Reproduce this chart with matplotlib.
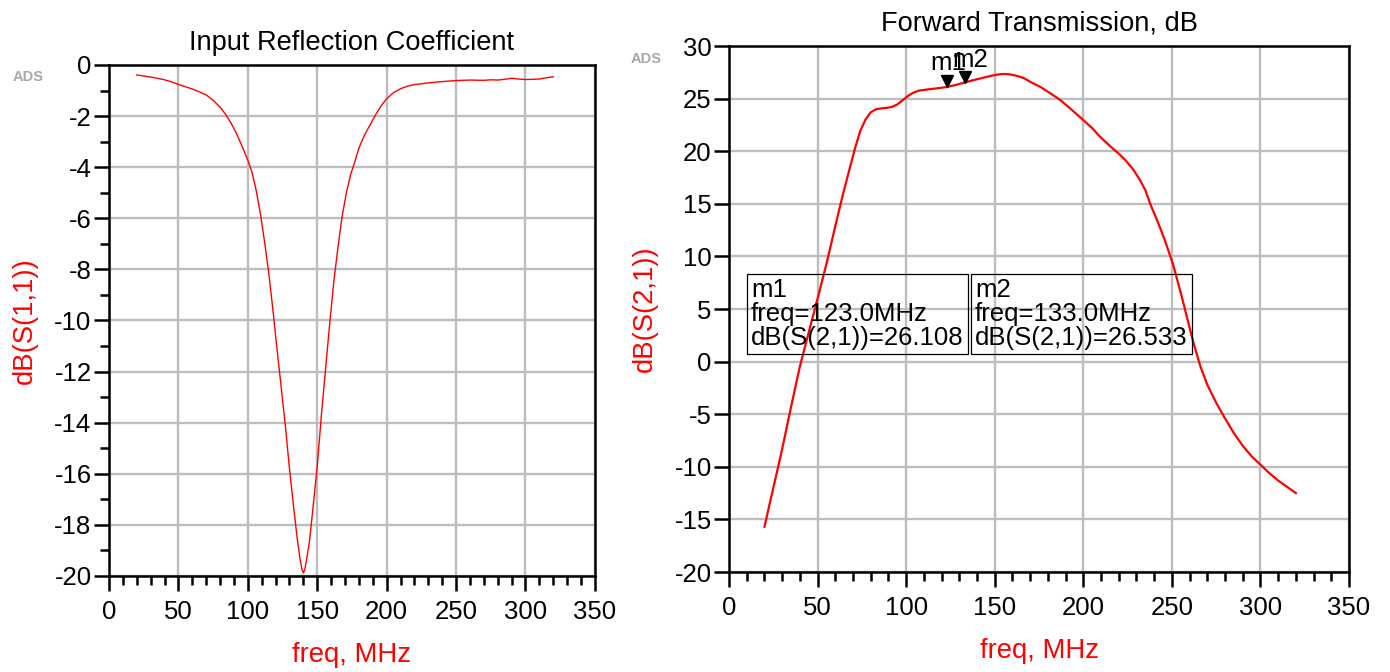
import matplotlib
matplotlib.use("Agg")
import matplotlib.pyplot as plt
from matplotlib.ticker import MultipleLocator
from matplotlib.transforms import ScaledTranslation

plt.rcParams['font.family'] = ['Liberation Sans', 'DejaVu Sans']
plt.rcParams['axes.unicode_minus'] = False

# S11
s11_freq = [20, 25, 30, 35, 40, 45, 50, 55, 60, 65, 70, 75, 80, 84, 88, 92, 96, 100,
            103, 106, 109, 112, 115, 118, 121, 124, 127, 130, 133, 135.5, 137.5, 139,
            140, 141, 142.5, 144.5, 147, 150, 153, 156, 159, 162, 165, 168, 171, 174,
            177, 180, 184, 188, 192, 196, 200, 205, 210, 215, 220, 230, 240, 250, 260,
            270, 275, 280, 285, 290, 295, 300, 305, 310, 315, 320]
s11_db = [-0.39, -0.43, -0.47, -0.52, -0.58, -0.66, -0.76, -0.85, -0.94, -1.05, -1.17,
          -1.38, -1.65, -1.93, -2.28, -2.7, -3.2, -3.72, -4.2, -4.9, -5.8, -6.9, -8.1,
          -9.55, -11.1, -12.6, -14.1, -15.8, -17.3, -18.5, -19.3, -19.75, -19.88,
          -19.75, -19.3, -18.6, -17.3, -15.7, -13.7, -11.9, -10.1, -8.45, -7.1, -5.9,
          -5.0, -4.3, -3.8, -3.25, -2.75, -2.35, -1.95, -1.6, -1.32, -1.08, -0.93,
          -0.83, -0.77, -0.7, -0.65, -0.61, -0.59, -0.6, -0.58, -0.59, -0.56, -0.52,
          -0.55, -0.57, -0.56, -0.55, -0.5, -0.46]

# S21
s21_freq = [20, 22, 25, 30, 35, 40, 45, 50, 55, 60, 64, 68, 71, 74, 77, 80, 83, 86,
            89, 92, 95, 98, 101, 104, 107, 111, 117, 123, 128, 133, 138, 143.6, 148,
            152, 155, 158, 161, 164.3, 167, 170, 175.6, 181, 187, 193, 200, 205,
            209.4, 215, 219.8, 224, 228, 232, 235, 238, 242, 246, 250.8, 256, 262, 266,
            270, 275, 280, 285, 290, 295, 300, 305, 310, 315, 320]
s21_db = [-15.7, -14.2, -12.0, -8.3, -4.3, -0.45, 2.8, 6.0, 9.3, 12.9, 15.7, 18.3,
          20.2, 21.9, 23.0, 23.7, 24.0, 24.07, 24.12, 24.22, 24.45, 24.85, 25.25,
          25.56, 25.75, 25.85, 25.97, 26.108, 26.3, 26.533, 26.76, 26.99, 27.17, 27.3,
          27.34, 27.32, 27.22, 27.08, 26.9, 26.6, 26.13, 25.55, 24.87, 24.0, 22.96,
          22.2, 21.38, 20.5, 19.8, 19.1, 18.3, 17.26, 16.3, 14.9, 13.3, 11.56, 9.18,
          5.9, 1.9, -0.4, -2.2, -3.9, -5.4, -6.8, -8.0, -9.0, -9.8, -10.6, -11.3,
          -11.9, -12.5]

# markers
mk_names = ['m1', 'm2']
mk_freq = [123.0, 133.0]
mk_db = [26.108, 26.533]

grid_col = '#bdbdbd'
tick_fs = 18.5
lab_fs = 19.8


def style_axes(ax, xlim, ylim, ymajor, yminor):
    ax.set_xlim(*xlim)
    ax.set_ylim(*ylim)
    ax.xaxis.set_major_locator(MultipleLocator(50))
    ax.xaxis.set_minor_locator(MultipleLocator(10))
    ax.yaxis.set_major_locator(MultipleLocator(ymajor))
    if yminor:
        ax.yaxis.set_minor_locator(MultipleLocator(yminor))
    ax.grid(True, which='major', color=grid_col, lw=1.7)
    ax.set_axisbelow(True)
    for sp in ax.spines.values():
        sp.set_linewidth(1.8)
        sp.set_color('black')
    ax.tick_params(which='major', direction='out', length=11, width=1.8,
                   labelsize=tick_fs)
    ax.tick_params(which='minor', direction='out', length=6.5, width=1.8)
    ax.tick_params(axis='x', which='major', pad=6)
    ax.tick_params(axis='y', which='major', pad=1.5)


fig = plt.figure(figsize=(13.9, 6.72), dpi=100)

# left: input reflection
ax1 = fig.add_axes([0.0784, 0.1429, 0.3496, 0.7604])
style_axes(ax1, (0, 350), (-20, 0), 2, 1)
ax1.plot(s11_freq, s11_db, color='red', lw=1.0)
ax1.set_title("Input Reflection Coefficient", fontsize=19.6, pad=11)
ax1.set_xlabel("freq, MHz", color='red', fontsize=lab_fs, labelpad=13)
ax1.set_ylabel("dB(S(1,1))", color='red', fontsize=lab_fs, labelpad=12)
ax1.text(-0.1667, 0.9765, "ADS", transform=ax1.transAxes, fontsize=10.5,
         fontweight='bold', color='#a8a8a8', ha='center', va='center')

# right: forward transmission
ax2 = fig.add_axes([0.5245, 0.1488, 0.446, 0.7827])
style_axes(ax2, (0, 350), (-20, 30), 5, None)
ax2.plot(s21_freq, s21_db, color='red', lw=1.6)
ax2.set_title("Forward Transmission, dB", fontsize=19.6, pad=11)
ax2.set_xlabel("freq, MHz", color='red', fontsize=lab_fs, labelpad=13)
ax2.set_ylabel("dB(S(2,1))", color='red', fontsize=lab_fs, labelpad=12)
ax2.text(-0.134, 0.975, "ADS", transform=ax2.transAxes, fontsize=10.5,
         fontweight='bold', color='#a8a8a8', ha='center', va='center')

# marker triangles, apex on the trace
tri = ax2.transData + ScaledTranslation(0, 4.3 / 72, fig.dpi_scale_trans)
ax2.plot(mk_freq, mk_db, linestyle='none', marker='v', markersize=8.6,
         color='black', transform=tri, clip_on=False)
lab_dx = [-17, -12]
lab_dy = [16.5, 16]
for name, f, v, dx, dy in zip(mk_names, mk_freq, mk_db, lab_dx, lab_dy):
    ax2.annotate(name, xy=(f, v), xytext=(dx * 0.72, dy * 0.72),
                 textcoords='offset points', ha='left', va='baseline',
                 fontsize=tick_fs, annotation_clip=False)

# marker readout boxes
box_x = [12.4, 138.9]
for name, f, v, bx in zip(mk_names, mk_freq, mk_db, box_x):
    txt = "%s\nfreq=%.1fMHz\ndB(S(2,1))=%.3f" % (name, f, v)
    ax2.text(bx, 7.95, txt, ha='left', va='top', fontsize=tick_fs,
             linespacing=1.0,
             bbox=dict(boxstyle='square,pad=0.16', fc='none', ec='black', lw=0.9))

fig.savefig("out.png", dpi=100)
